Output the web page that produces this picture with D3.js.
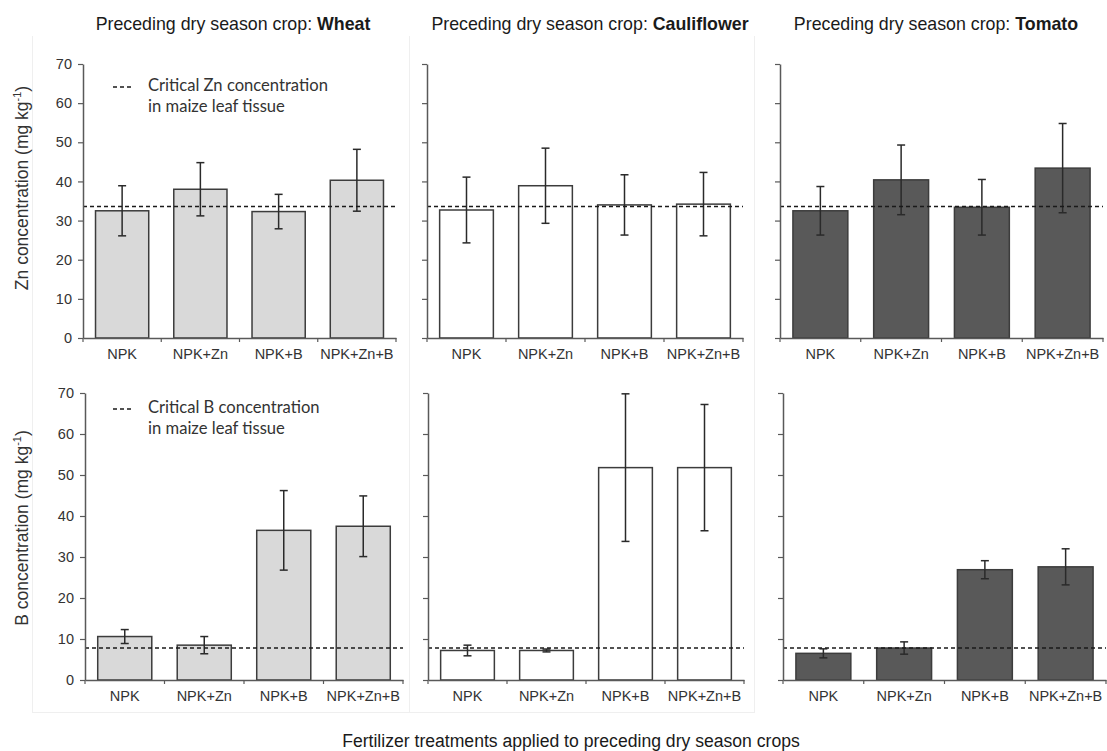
<!DOCTYPE html>
<html><head><meta charset="utf-8">
<script src="https://cdn.jsdelivr.net/npm/d3@7"></script>
<style>
html,body{margin:0;padding:0;background:#fff;}
svg{display:block;}
</style>
</head><body>
<svg id="c" width="1107" height="751"></svg>
<script>
// ---------- DATA ----------
const categories = ["NPK", "NPK+Zn", "NPK+B", "NPK+Zn+B"];
const crops = ["Wheat", "Cauliflower", "Tomato"];
const yTicks = [0, 10, 20, 30, 40, 50, 60, 70];

const wheatZn = [32.5, 38.0, 32.3, 40.3];
const wheatZnErr = [6.4, 6.8, 4.4, 7.9];
const caulZn = [32.7, 38.9, 34.0, 34.2];
const caulZnErr = [8.4, 9.6, 7.7, 8.1];
const tomZn = [32.5, 40.4, 33.4, 43.4];
const tomZnErr = [6.2, 8.9, 7.1, 11.4];

const wheatB = [10.6, 8.5, 36.5, 37.5];
const wheatBErr = [1.7, 2.1, 9.7, 7.4];
const caulB = [7.2, 7.2, 51.8, 51.8];
const caulBErr = [1.3, 0.35, 18.0, 15.4];
const tomB = [6.5, 7.8, 26.9, 27.6];
const tomBErr = [1.1, 1.5, 2.2, 4.4];

const criticalZn = 33.6;
const criticalB = 7.8;

const rowTitles = ["Zn concentration (mg kg", "B concentration (mg kg"];
const legendLines = [["Critical Zn concentration", "in maize leaf tissue"],
                     ["Critical B concentration", "in maize leaf tissue"]];
const xTitle = "Fertilizer treatments  applied to preceding dry season crops";
const titlePrefix = "Preceding dry season crop: ";

// ---------- LAYOUT ----------
const fills = ["#d9d9d9", "#ffffff", "#595959"];
const rows = [
  {y0: 338, y1: 64, cols: [[83, 396], [427, 743], [780, 1103]], values: [wheatZn, caulZn, tomZn], errs: [wheatZnErr, caulZnErr, tomZnErr], crit: criticalZn, titleY: 188, legY: 91},
  {y0: 680, y1: 393, cols: [[85, 403], [428, 744], [783, 1106]], values: [wheatB, caulB, tomB], errs: [wheatBErr, caulBErr, tomBErr], crit: criticalB, titleY: 528, legY: 413}
];
const titleCenters = [233, 590, 936];

const svg = d3.select("#c");
const FONT = "'Liberation Sans', Arial, sans-serif";

// faint panel frames
const frame = svg.append("g").attr("stroke", "#efefef").attr("stroke-width", 1).attr("fill", "none");
frame.append("line").attr("x1", 32.5).attr("x2", 32.5).attr("y1", 36).attr("y2", 712);
frame.append("line").attr("x1", 409.5).attr("x2", 409.5).attr("y1", 36).attr("y2", 712);
frame.append("line").attr("x1", 754.5).attr("x2", 754.5).attr("y1", 36).attr("y2", 713);
frame.append("line").attr("x1", 32).attr("x2", 754).attr("y1", 712.5).attr("y2", 712.5);

// titles
crops.forEach((c, i) => {
  const t = svg.append("text").attr("x", titleCenters[i]).attr("y", 30)
    .attr("text-anchor", "middle").attr("font-family", FONT).attr("font-size", 17.8).attr("fill", "#1a1a1a");
  t.append("tspan").text(titlePrefix);
  t.append("tspan").attr("font-weight", "bold").text(c);
});

rows.forEach((row, ri) => {
  const y = d3.scaleLinear().domain([0, 70]).range([row.y0, row.y1]);
  row.cols.forEach((cr, ci) => {
    const g = svg.append("g");
    const x = d3.scaleBand().domain(categories).range(cr).paddingInner(0.32).paddingOuter(0.16);

    // bars
    g.selectAll("rect.bar").data(row.values[ci]).join("rect")
      .attr("x", (d, i) => x(categories[i]))
      .attr("y", d => y(d))
      .attr("width", x.bandwidth())
      .attr("height", d => y(0) - y(d))
      .attr("fill", fills[ci]).attr("stroke", "#3c3c3c").attr("stroke-width", 1.5);

    // error bars
    const eb = g.append("g").attr("stroke", "#2a2a2a").attr("stroke-width", 1.5);
    row.values[ci].forEach((v, i) => {
      const cx = x(categories[i]) + x.bandwidth() / 2;
      const e = row.errs[ci][i];
      eb.append("line").attr("x1", cx).attr("x2", cx).attr("y1", y(v + e)).attr("y2", y(v - e));
      eb.append("line").attr("x1", cx - 4).attr("x2", cx + 4).attr("y1", y(v + e)).attr("y2", y(v + e));
      eb.append("line").attr("x1", cx - 4).attr("x2", cx + 4).attr("y1", y(v - e)).attr("y2", y(v - e));
    });

    // critical line
    g.append("line").attr("x1", cr[0]).attr("x2", cr[1]).attr("y1", y(row.crit)).attr("y2", y(row.crit))
      .attr("stroke", "#1a1a1a").attr("stroke-width", 1.4).attr("stroke-dasharray", "4,3");

    // y axis
    const ya = d3.axisLeft(y).tickValues(yTicks).tickSize(5).tickSizeOuter(0)
      .tickFormat(ci === 0 ? d3.format("d") : () => "");
    const yg = g.append("g").attr("transform", `translate(${cr[0]},0)`).call(ya);
    yg.select(".domain").attr("stroke", "#595959").attr("stroke-width", 1.5);
    yg.selectAll(".tick line").attr("stroke", "#595959").attr("stroke-width", 1.2);
    yg.selectAll(".tick text").attr("font-family", FONT).attr("font-size", 14.5).attr("fill", "#333").attr("x", -11);

    // x axis
    const xa = d3.axisBottom(x).tickSize(0).tickSizeOuter(0);
    const xg = g.append("g").attr("transform", `translate(0,${row.y0})`).call(xa);
    xg.select(".domain").attr("stroke", "#595959").attr("stroke-width", 1.5);
    xg.selectAll(".tick text").attr("font-family", FONT).attr("font-size", 14.5).attr("fill", "#333").attr("dy", 0).attr("y", 21);
    // boundary ticks
    const bounds = d3.range(categories.length + 1).map(k => cr[0] + k * (cr[1] - cr[0]) / categories.length);
    g.selectAll("line.bt").data(bounds).join("line")
      .attr("x1", d => d).attr("x2", d => d).attr("y1", row.y0).attr("y2", row.y0 + 4)
      .attr("stroke", "#595959").attr("stroke-width", 1.2);
  });

  // row y title
  const t = svg.append("text").attr("transform", `translate(28,${row.titleY}) rotate(-90)`)
    .attr("text-anchor", "middle").attr("font-family", FONT).attr("font-size", 17.5).attr("fill", "#333");
  t.append("tspan").text(rowTitles[ri]);
  t.append("tspan").attr("font-size", 11).attr("dy", -7).text("-1");
  t.append("tspan").attr("dy", 7).text(")");

  // legend
  const ly = row.legY;
  svg.append("line").attr("x1", 113).attr("x2", 133).attr("y1", ly - 4).attr("y2", ly - 4)
    .attr("stroke", "#1a1a1a").attr("stroke-width", 1.4).attr("stroke-dasharray", "4,3");
  legendLines[ri].forEach((s, k) => {
    svg.append("text").attr("x", 148).attr("y", ly + k * 21).attr("font-family", "Lato, 'Open Sans', sans-serif")
      .attr("font-size", 16.6).attr("fill", "#333").text(s);
  });
});

// x title
svg.append("text").attr("x", 571).attr("y", 747).attr("text-anchor", "middle")
  .attr("font-family", FONT).attr("font-size", 17.6).attr("fill", "#1a1a1a").text(xTitle);
</script>
</body></html>
